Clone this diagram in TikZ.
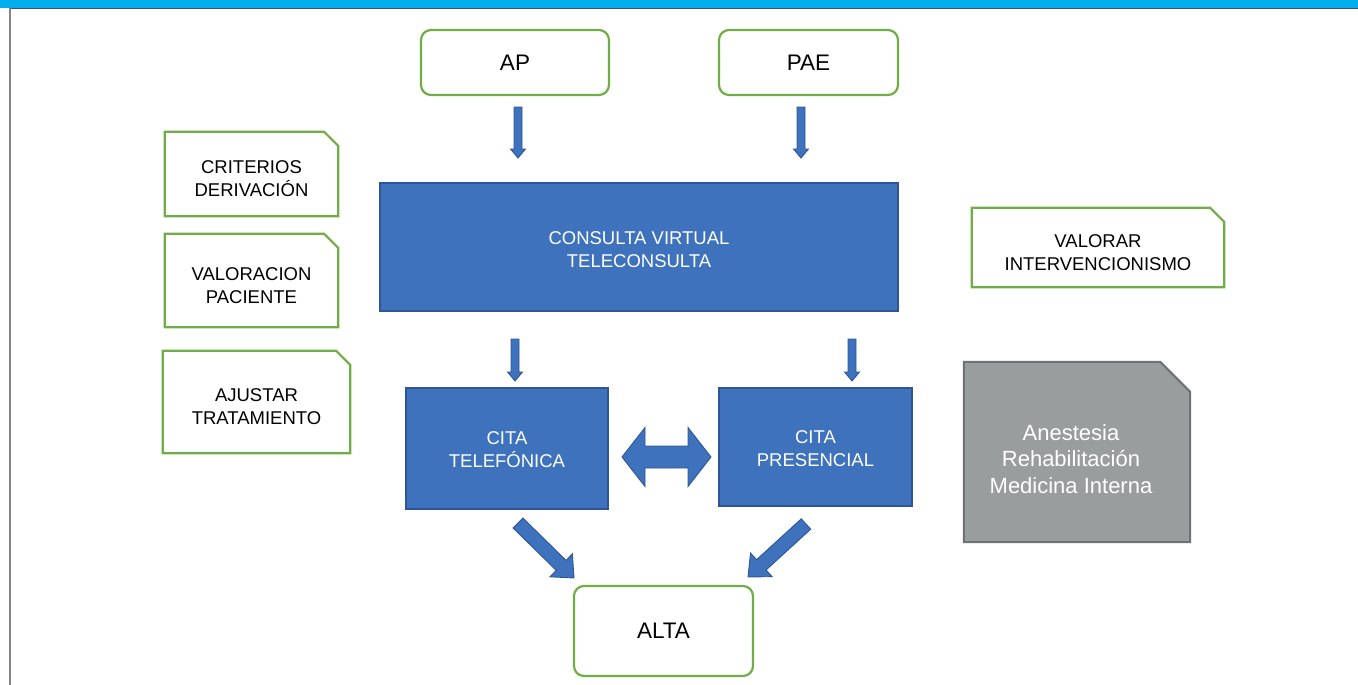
\documentclass[tikz,border=0pt]{standalone}
\usepackage{fontspec}
\setmainfont{Liberation Sans}
\usetikzlibrary{calc,backgrounds}

\definecolor{topbar}{RGB}{0,174,239}
\definecolor{topedge}{RGB}{52,86,112}
\definecolor{sideline}{RGB}{128,134,142}
\definecolor{boxgreen}{RGB}{112,173,71}
\definecolor{bluefill}{RGB}{62,114,188}
\definecolor{blueline}{RGB}{47,85,151}
\definecolor{grayfill}{RGB}{154,157,158}
\definecolor{grayline}{RGB}{110,114,115}

% block arrow from a tail coordinate to a tip coordinate
% #1 tail, #2 tip, #3 half shaft width, #4 half head width, #5 head length (numbers in pt)
\newcommand\blockarrow[5]{%
  \pgfpointdiff{\pgfpointanchor{#1}{center}}{\pgfpointanchor{#2}{center}}%
  \pgfgetlastxy{\baDx}{\baDy}%
  \pgfmathsetmacro\baAng{atan2(\baDy,\baDx)}%
  \pgfmathsetmacro\baLen{veclen(\baDx,\baDy)}%
  \begin{scope}[shift={(#1)}, rotate=\baAng]
    \draw[arrowbody] (0pt,-#3pt) -- (\baLen pt-#5pt,-#3pt) -- (\baLen pt-#5pt,-#4pt)
      -- (\baLen pt,0pt) -- (\baLen pt-#5pt,#4pt) -- (\baLen pt-#5pt,#3pt) -- (0pt,#3pt) -- cycle;
  \end{scope}}

% frame with a cut top-right corner, drawn behind a named node
\newcommand\snipframe[3]{%
  \begin{pgfonlayer}{background}
    \draw[#3] (#1.north west) -- ([xshift=-#2]#1.north east) -- ([yshift=-#2]#1.north east)
      -- (#1.south east) -- (#1.south west) -- cycle;
  \end{pgfonlayer}}

\tikzset{
  roundbox/.style={draw=boxgreen, line width=2.2pt, rounded corners=10pt, fill=white,
    inner sep=0pt, font=\fontsize{22.5}{27}\selectfont},
  notebox/.style={inner sep=0pt},
  notetext/.style={inner sep=0pt, align=center, font=\fontsize{18.5}{23}\selectfont},
  greenframe/.style={draw=boxgreen, line width=2.2pt, fill=white},
  grayframe/.style={draw=grayline, line width=2pt, fill=grayfill},
  bluebox/.style={draw=blueline, fill=bluefill, line width=1.6pt, inner sep=0pt},
  bluetext/.style={text=white, inner sep=0pt, align=center, font=\fontsize{18.5}{23}\selectfont},
  arrowbody/.style={fill=bluefill, draw=blueline, line width=0.9pt, line join=miter},
}

\begin{document}
\begin{tikzpicture}[x=1pt, y=-1pt]
  \useasboundingbox (0,0) rectangle (1358,685);

  % page header strip and left rule
  \fill[topbar] (0,0) rectangle (1358,8);
  \draw[topedge, line width=1pt] (10,8.5) -- (1358,8.5);
  \draw[sideline, line width=1.6pt] (10,8) -- (10,685);

  % sources
  \node[roundbox, minimum width=188pt, minimum height=65pt] (ap) at (515,62.5) {AP};
  \node[roundbox, minimum width=179pt, minimum height=65pt] (pae) at (808.5,62.5) {PAE};

  % central consultation
  \node[bluebox, minimum width=518pt, minimum height=128pt,
        label={[bluetext, name=virtT, yshift=-3pt]center:{CONSULTA VIRTUAL\\TELECONSULTA}}]
    (virt) at (639,247) {};

  % appointments
  \node[bluebox, minimum width=202pt, minimum height=121pt,
        label={[bluetext, name=teleT, yshift=-1pt]center:{CITA\\TELEFÓNICA}}]
    (tele) at (507,448.5) {};
  \node[bluebox, minimum width=193pt, minimum height=118pt,
        label={[bluetext, name=presT, yshift=-2pt]center:{CITA\\PRESENCIAL}}]
    (pres) at (815.5,447) {};

  % discharge
  \node[roundbox, minimum width=179pt, minimum height=90pt] (alta) at (663.5,631) {ALTA};

  % side notes
  \node[notebox, minimum width=173pt, minimum height=84pt,
        label={[notetext, name=critT, yshift=-5pt]center:{CRITERIOS\\DERIVACIÓN}}]
    (crit) at (251.5,174) {};
  \snipframe{crit}{14pt}{greenframe}
  \node[notebox, minimum width=173pt, minimum height=93pt,
        label={[notetext, name=valpT, yshift=-5pt]center:{VALORACION\\PACIENTE}}]
    (valp) at (251.5,280.5) {};
  \snipframe{valp}{14pt}{greenframe}
  \node[notebox, minimum width=187pt, minimum height=102pt,
        label={[notetext, name=ajusT, yshift=-5pt]center:{AJUSTAR\\TRATAMIENTO}}]
    (ajus) at (256.5,402) {};
  \snipframe{ajus}{14pt}{greenframe}
  \node[notebox, minimum width=252pt, minimum height=79pt,
        label={[notetext, name=valoT, yshift=-5pt]center:{VALORAR\\INTERVENCIONISMO}}]
    (valo) at (1098,247.5) {};
  \snipframe{valo}{14pt}{greenframe}
  \node[notebox, minimum width=226pt, minimum height=180pt,
        label={[notetext, text=white, name=servT, xshift=-6pt, yshift=-7pt, font=\fontsize{22}{26.5}\selectfont]center:{Anestesia\\Rehabilitación\\Medicina Interna}}]
    (serv) at (1077,452) {};
  \snipframe{serv}{30pt}{grayframe}

  % arrow end points
  \coordinate (apT) at (518,107);   \coordinate (apH) at (518,158);
  \coordinate (paeT) at (801,107);  \coordinate (paeH) at (801,158);
  \coordinate (v1T) at (515,339);   \coordinate (v1H) at (515,381);
  \coordinate (v2T) at (852,339);   \coordinate (v2H) at (852,381);
  \coordinate (t1T) at (518,523);   \coordinate (t1H) at (574,578);
  \coordinate (p1T) at (806,524);   \coordinate (p1H) at (748,577);
  \coordinate (dL) at (622,457);    \coordinate (dR) at (711,457);

  \blockarrow{apT}{apH}{4}{7.5}{9}
  \blockarrow{paeT}{paeH}{4}{7.5}{9}
  \blockarrow{v1T}{v1H}{4}{7.5}{9}
  \blockarrow{v2T}{v2H}{4}{7.5}{9}
  \blockarrow{t1T}{t1H}{7}{16}{18}
  \blockarrow{p1T}{p1H}{7}{16}{18}

  % two-way arrow between the appointments
  \draw[arrowbody] (dL) -- ($(dL)+(23,-29.5)$) -- ($(dL)+(23,-11)$) -- ($(dR)+(-23,-11)$)
    -- ($(dR)+(-23,-29.5)$) -- (dR) -- ($(dR)+(-23,29.5)$) -- ($(dR)+(-23,11)$)
    -- ($(dL)+(23,11)$) -- ($(dL)+(23,29.5)$) -- cycle;
\end{tikzpicture}
\end{document}
